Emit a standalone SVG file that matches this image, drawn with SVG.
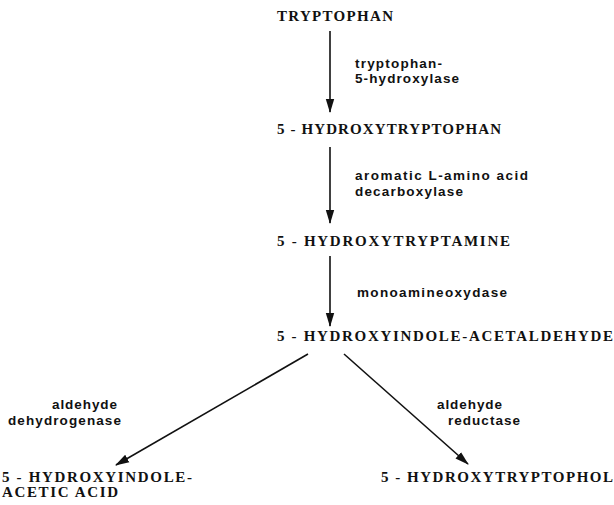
<svg xmlns="http://www.w3.org/2000/svg" width="614" height="505" viewBox="0 0 614 505">
<defs>
<style>
.n{font-family:"Liberation Serif","Times New Roman",serif;font-weight:bold;font-size:15px;fill:#111}
.e{font-family:"Liberation Sans",Arial,sans-serif;font-weight:bold;font-size:13.5px;fill:#111}
.c{stroke:#111;stroke-width:1.6;fill:none}
</style>
<marker id="ah" markerWidth="14" markerHeight="10" viewBox="0 0 14 10" refX="13" refY="5" orient="auto" markerUnits="userSpaceOnUse">
<path d="M0,0.8 L14,5 L0,9.2 Z" fill="#111"/>
</marker>
</defs>
<rect width="614" height="505" fill="#fff"/>
<g id="connectors">
<line class="c" x1="330" y1="31" x2="330" y2="112" marker-end="url(#ah)"/>
<line class="c" x1="330" y1="147" x2="330" y2="223" marker-end="url(#ah)"/>
<line class="c" x1="330" y1="256" x2="330" y2="326" marker-end="url(#ah)"/>
<line class="c" x1="308" y1="354" x2="116" y2="465" marker-end="url(#ah)"/>
<line class="c" x1="344" y1="354" x2="468" y2="464" marker-end="url(#ah)"/>
</g>
<g id="tryptophan"><text class="n" x="277" y="21" textLength="116" lengthAdjust="spacing">TRYPTOPHAN</text></g>
<g id="e1"><text class="e" x="355" y="68" textLength="87" lengthAdjust="spacing">tryptophan-</text><text class="e" x="355" y="83" textLength="104" lengthAdjust="spacing">5-hydroxylase</text></g>
<g id="htp"><text class="n" x="277" y="134" textLength="224" lengthAdjust="spacing">5 - HYDROXYTRYPTOPHAN</text></g>
<g id="e2"><text class="e" x="355" y="180" textLength="173" lengthAdjust="spacing">aromatic L-amino acid</text><text class="e" x="355" y="196" textLength="108" lengthAdjust="spacing">decarboxylase</text></g>
<g id="ht"><text class="n" x="277" y="246" textLength="233" lengthAdjust="spacing">5 - HYDROXYTRYPTAMINE</text></g>
<g id="e3"><text class="e" x="357" y="297" textLength="150" lengthAdjust="spacing">monoamineoxydase</text></g>
<g id="hia"><text class="n" x="277" y="341" textLength="336" lengthAdjust="spacing">5 - HYDROXYINDOLE-ACETALDEHYDE</text></g>
<g id="e4"><text class="e" x="52" y="409" textLength="65" lengthAdjust="spacing">aldehyde</text><text class="e" x="8" y="425" textLength="113" lengthAdjust="spacing">dehydrogenase</text></g>
<g id="hiaa"><text class="n" x="2" y="482" textLength="190" lengthAdjust="spacing">5 - HYDROXYINDOLE-</text><text class="n" x="2" y="497" textLength="116" lengthAdjust="spacing">ACETIC ACID</text></g>
<g id="e5"><text class="e" x="437" y="409" textLength="65" lengthAdjust="spacing">aldehyde</text><text class="e" x="448" y="425" textLength="72" lengthAdjust="spacing">reductase</text></g>
<g id="htl"><text class="n" x="381" y="482" textLength="232" lengthAdjust="spacing">5 - HYDROXYTRYPTOPHOL</text></g>
</svg>
